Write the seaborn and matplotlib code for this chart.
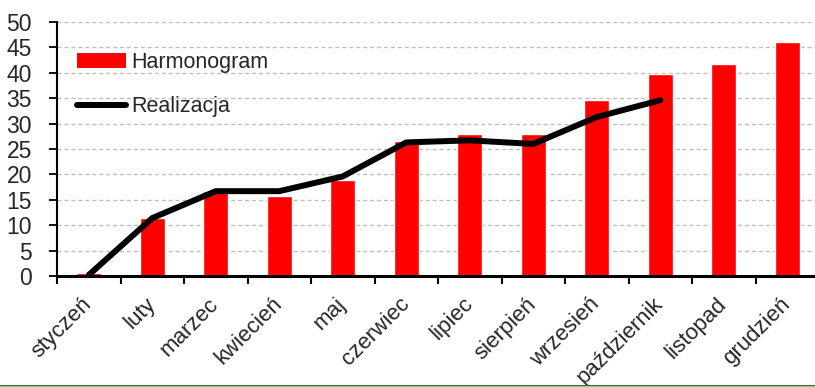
import matplotlib
matplotlib.use("Agg")
import matplotlib.pyplot as plt
from matplotlib.patches import Patch
from matplotlib.lines import Line2D
import numpy as np
import pandas as pd
import seaborn as sns

# Monthly schedule vs. actual progress
months = ["styczeń", "luty", "marzec", "kwiecień", "maj", "czerwiec",
          "lipiec", "sierpień", "wrzesień", "październik", "listopad", "grudzień"]
harmonogram = [0.6, 11.4, 16.7, 15.8, 18.9, 26.6, 28.0, 28.0, 34.6, 39.8, 41.7, 46.0]
realizacja = [0.2, 11.4, 16.7, 16.7, 19.6, 26.3, 26.7, 26.0, 31.3, 34.6]
y_ticks = [0, 5, 10, 15, 20, 25, 30, 35, 40, 45, 50]

sns.set_theme(style="white")
plt.rcParams["font.family"] = ["Liberation Sans", "DejaVu Sans"]

fig = plt.figure(figsize=(8.15, 3.87), dpi=100)
ax = fig.add_axes([57 / 815, 111 / 387, 762 / 815, 254 / 387])

df_plan = pd.DataFrame({"miesiac": months, "wartosc": harmonogram})
sns.barplot(data=df_plan, x="miesiac", y="wartosc", color="#ff0000",
            saturation=1, width=0.4, ax=ax, zorder=2)

df_real = pd.DataFrame({"pos": np.arange(len(realizacja)), "wartosc": realizacja})
sns.lineplot(data=df_real, x="pos", y="wartosc", color="black", linewidth=4.3,
             ax=ax, zorder=3, solid_capstyle="round", solid_joinstyle="round")

ax.set_xlim(-0.5, len(months) - 0.5)
ax.set_ylim(0, 50)
ax.set_xlabel("")
ax.set_ylabel("")

# Horizontal dashed grid
ax.set_yticks(y_ticks)
ax.set_yticklabels([str(v) for v in y_ticks], fontsize=16.5)
for v in y_ticks[1:]:
    ax.axhline(v, color="#c0c0c0", linestyle=(0, (3, 2)), linewidth=1.0, zorder=1)
ax.grid(False)

# Category boundary ticks, labels at category centres
ax.set_xticks(np.arange(-0.5, len(months), 1.0))
ax.set_xticklabels([])
ax.set_xticks(np.arange(len(months)), minor=True)
ax.set_xticklabels(months, minor=True, rotation=45, ha="right", va="center",
                   rotation_mode="anchor", fontsize=16)
ax.tick_params(axis="x", which="major", direction="out", length=6, width=1.5,
               color="black", bottom=True)
ax.tick_params(axis="x", which="minor", length=0, pad=18)
ax.tick_params(axis="y", direction="out", length=6, width=1.3, color="black",
               left=True, pad=12)

for side in ["top", "right"]:
    ax.spines[side].set_visible(False)
ax.spines["left"].set_color("black")
ax.spines["left"].set_linewidth(1.5)
ax.spines["bottom"].set_color("black")
ax.spines["bottom"].set_linewidth(2.2)
ax.spines["bottom"].set_zorder(4)

handles = [Patch(facecolor="#ff0000", edgecolor="none", label="Harmonogram"),
           Line2D([0], [0], color="black", linewidth=4.3, solid_capstyle="round",
                  label="Realizacja")]
ax.legend(handles=handles, loc="upper left", bbox_to_anchor=(0.026, 0.88),
          frameon=False, fontsize=15.5, handlelength=2.3, handletextpad=0.25,
          labelspacing=1.05, borderaxespad=0, borderpad=0)

# Footer rule
fig.add_artist(Line2D([0, 1], [1.3 / 387, 1.3 / 387], color="#3d6e3d",
                      linewidth=1.5, transform=fig.transFigure))
fig.add_artist(Line2D([0, 1], [0.2 / 387, 0.2 / 387], color="#a8d4a8",
                      linewidth=1.2, transform=fig.transFigure))

fig.savefig("out.png", dpi=100)
